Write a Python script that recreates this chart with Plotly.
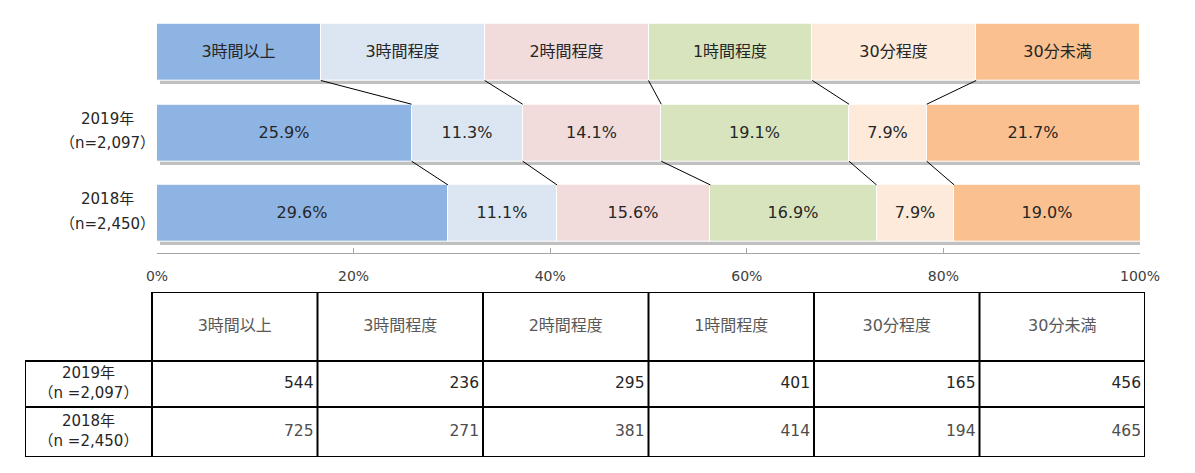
import plotly.graph_objects as go

# --- data ---
categories = ['3時間以上', '3時間程度', '2時間程度', '1時間程度', '30分程度', '30分未満']
years = ['2019年', '2018年']
sample_sizes = ['（n=2,097）', '（n=2,450）']
table_sizes = ['（n =2,097）', '（n =2,450）']
pct_2019 = [25.9, 11.3, 14.1, 19.1, 7.9, 21.7]
pct_2018 = [29.6, 11.1, 15.6, 16.9, 7.9, 19.0]
count_2019 = [544, 236, 295, 401, 165, 456]
count_2018 = [725, 271, 381, 414, 194, 465]
x_ticks = [0, 20, 40, 60, 80, 100]
colors = ['#8EB4E3', '#DCE6F2', '#F2DCDB', '#D7E4BD', '#FDEADA', '#FAC090']

W, H = 1195, 473
FONT = 'DejaVu Sans, Noto Sans CJK JP'
BW = 0.706  # bar thickness in row units


def cum_bases(vals):
    out, s = [], 0
    for v in vals:
        out.append(s)
        s += v
    return out


legend_vals = [100 / len(categories)] * len(categories)
rows = [legend_vals, pct_2019, pct_2018]
bases = [cum_bases(r) for r in rows]
ypos = [0, 1, 2]

fig = go.Figure()

# shadows under each row
for y, r in zip(ypos, rows):
    fig.add_trace(go.Bar(x=[sum(r)], y=[y + 0.04], base=[0.3], width=BW, orientation='h',
                         marker=dict(color='#C0C0C0', line_width=0), hoverinfo='skip',
                         showlegend=False))

for i, cat in enumerate(categories):
    fig.add_trace(go.Bar(
        x=[r[i] for r in rows], y=ypos, base=[b[i] for b in bases], width=BW,
        orientation='h', name=cat, showlegend=False,
        marker=dict(color=colors[i], line=dict(color='white', width=1)),
        text=[cat, f'{pct_2019[i]:.1f}%', f'{pct_2018[i]:.1f}%'],
        textposition='inside', insidetextanchor='middle', constraintext='none',
        textangle=0,
        textfont=dict(family=FONT, size=16, color='#262626'),
    ))

# connector lines between the boundaries of consecutive rows
lx, ly = [], []
for a in range(len(rows) - 1):
    ends_a = [b + v for b, v in zip(bases[a], rows[a])][:-1]
    ends_b = [b + v for b, v in zip(bases[a + 1], rows[a + 1])][:-1]
    for xa, xb in zip(ends_a, ends_b):
        lx += [xa, xb, None]
        ly += [ypos[a] + BW / 2, ypos[a + 1] - BW / 2, None]
fig.add_trace(go.Scatter(x=lx, y=ly, mode='lines', line=dict(color='#000000', width=1),
                         hoverinfo='skip', showlegend=False))

# row labels
for y, yr, n in zip(ypos[1:], years, sample_sizes):
    fig.add_annotation(x=107 / W, xref='paper', xanchor='center', y=y - 0.175, yref='y',
                       text=yr, showarrow=False, font=dict(family=FONT, size=15, color='#262626'))
    fig.add_annotation(x=107 / W, xref='paper', xanchor='center', y=y + 0.13, yref='y',
                       text=n, showarrow=False, font=dict(family=FONT, size=15, color='#262626'))

# --- table under the chart, on its own axes (units = pixels) ---
col_w = [127] + [165.5] * len(categories)
row_h = [69, 46, 50]
col_x = cum_bases(col_w) + [sum(col_w)]
row_y = cum_bases(row_h) + [sum(row_h)]

grid = []
# horizontal rules (top one skips the empty corner cell)
grid.append((col_x[1], row_y[0], col_x[-1], row_y[0]))
for yy in row_y[1:]:
    grid.append((col_x[0] - 1, yy, col_x[-1] + 1, yy))
# vertical rules (left one starts below the corner cell)
grid.append((col_x[0], row_y[1], col_x[0], row_y[-1]))
for xx in col_x[1:]:
    grid.append((xx, row_y[0] - 1, xx, row_y[-1] + 1))
for x0, y0, x1, y1 in grid:
    fig.add_shape(type='line', xref='x2', yref='y2', x0=x0, y0=y0, x1=x1, y1=y1,
                  line=dict(color='#000000', width=2))

mid = lambda edges, k: (edges[k] + edges[k + 1]) / 2
# header
fig.add_trace(go.Scatter(
    x=[mid(col_x, k + 1) for k in range(len(categories))],
    y=[mid(row_y, 0)] * len(categories), text=categories, mode='text',
    textposition='middle center', xaxis='x2', yaxis='y2', hoverinfo='skip', showlegend=False,
    textfont=dict(family=FONT, size=16, color='#595959')))
# row labels
fig.add_trace(go.Scatter(
    x=[mid(col_x, 0)] * 2, y=[mid(row_y, 1), mid(row_y, 2)],
    text=[f'{y}<br>{n}' for y, n in zip(years, table_sizes)], mode='text',
    textposition='middle center', xaxis='x2', yaxis='y2', hoverinfo='skip', showlegend=False,
    textfont=dict(family=FONT, size=15, color='#262626')))
# counts
for r, (vals, col) in enumerate([(count_2019, '#262626'), (count_2018, '#4D4D4D')]):
    fig.add_trace(go.Scatter(
        x=[col_x[k + 2] - 4 for k in range(len(vals))], y=[mid(row_y, r + 1)] * len(vals),
        text=[str(v) for v in vals], mode='text', textposition='middle left',
        xaxis='x2', yaxis='y2', hoverinfo='skip', showlegend=False,
        textfont=dict(family=FONT, size=15.5, color=col)))

fig.update_layout(
    width=W, height=H, autosize=False, barmode='overlay', plot_bgcolor='white',
    paper_bgcolor='white', margin=dict(l=0, r=0, t=0, b=0, autoexpand=False), bargap=0,
    xaxis=dict(domain=[157 / W, 1140 / W], range=[0, 100], tickvals=x_ticks,
               ticktext=[f'{t}%' for t in x_ticks], showgrid=False, zeroline=False,
               showline=True, linecolor='#A6A6A6', linewidth=1, ticks='inside', ticklen=5,
               tickcolor='#A6A6A6', ticklabelstandoff=10, automargin=False,
               tickfont=dict(family=FONT, size=14, color='#404040'), fixedrange=True),
    yaxis=dict(domain=[1 - 253 / H, 1 - 19.7 / H], range=[2.49, -0.4], visible=False,
               automargin=False, fixedrange=True),
    xaxis2=dict(domain=[25 / W, 1145 / W], range=[0, sum(col_w)], visible=False,
                automargin=False, fixedrange=True),
    yaxis2=dict(domain=[1 - 457 / H, 1 - 292 / H], range=[sum(row_h), 0], visible=False,
                automargin=False, fixedrange=True),
)

fig.write_html('out.html', config={'responsive': False, 'displayModeBar': False},
               post_script="document.body.style.margin='0';document.body.style.overflow='hidden';")
